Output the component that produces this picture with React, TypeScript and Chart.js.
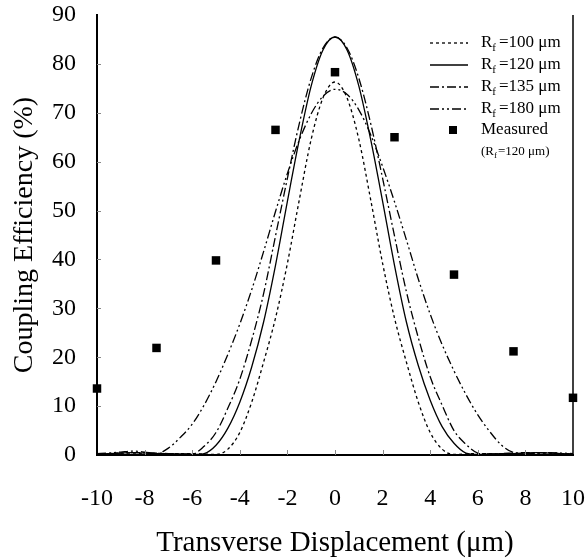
import React, { useEffect, useRef } from "react";
import { Chart, registerables } from "chart.js";

Chart.register(...registerables);

// ---- data ----
const xValues = [
  -10, -9.5, -9, -8.5, -8, -7.5, -7, -6.5, -6, -5.5, -5, -4.5, -4, -3.5, -3, -2.5, -2, -1.5, -1, -0.5,
  0, 0.5, 1, 1.5, 2, 2.5, 3, 3.5, 4, 4.5, 5, 5.5, 6, 6.5, 7, 7.5, 8, 8.5, 9, 9.5, 10,
];

const rf100 = [
  0.2, 0.3, 0.4, 0.4, 0.2, 0.1, 0.2, 0.3, 0.3, 0.2, 0.1, 1.2, 4.6, 10.8, 19.0, 28.0, 39.2, 52.2, 64.6, 73.1,
  76.3, 73.1, 64.6, 52.2, 39.2, 28.0, 19.0, 10.8, 4.6, 1.2, 0.1, 0.2, 0.3, 0.3, 0.2, 0.1, 0.2, 0.4, 0.4, 0.3, 0.2,
];

const rf120 = [
  0.2, 0.3, 0.4, 0.5, 0.4, 0.3, 0.3, 0.2, 0.1, 0.3, 2.0, 5.5, 10.8, 18.0, 27.2, 38.8, 51.9, 64.5, 75.5, 82.9,
  85.5, 82.9, 75.5, 64.5, 51.9, 38.8, 27.2, 18.3, 11.2, 5.8, 2.4, 0.4, 0.1, 0.2, 0.3, 0.3, 0.4, 0.5, 0.4, 0.3, 0.2,
];

const rf135 = [
  0.2, 0.3, 0.4, 0.5, 0.5, 0.4, 0.3, 0.2, 0.2, 1.8, 4.6, 9.6, 15.5, 23.5, 33.0, 44.8, 56.6, 67.8, 77.1, 83.3,
  85.5, 83.3, 77.1, 67.8, 56.6, 44.8, 33.4, 24.0, 16.0, 10.2, 5.0, 2.2, 0.4, 0.2, 0.3, 0.4, 0.5, 0.5, 0.4, 0.3, 0.2,
];

const rf180 = [
  0.3, 0.4, 0.6, 0.8, 0.6, 0.3, 1.4, 3.6, 6.3, 10.2, 15.0, 20.6, 26.8, 33.8, 41.6, 49.8, 57.6, 64.4, 69.8, 73.4,
  74.8, 73.8, 70.6, 65.5, 59.0, 51.8, 44.0, 36.0, 28.8, 22.6, 17.2, 12.4, 8.2, 4.8, 2.0, 0.5, 0.3, 0.4, 0.5, 0.4, 0.3,
];

const measuredX = [-10, -7.5, -5, -2.5, 0, 2.5, 5, 7.5, 10];
const measuredY = [13.6, 21.9, 39.8, 66.5, 78.3, 65.0, 36.9, 21.2, 11.7];

const radiusLabels = ["100", "120", "135", "180"];
const xTickStep = 2;
const yTickStep = 10;

const SERIF = "'Liberation Serif', 'Times New Roman', 'DejaVu Serif', serif";

const legendPlugin = {
  id: "customLegend",
  afterDraw(chart: any) {
    const ctx = chart.ctx;
    const lineX0 = 430;
    const lineX1 = 468;
    const textX = 481;
    const rowsY = [43, 65, 87, 109];
    ctx.save();
    ctx.fillStyle = "#000";
    ctx.strokeStyle = "#000";
    ctx.textBaseline = "middle";
    ctx.textAlign = "left";
    for (let i = 0; i < 4; i++) {
      const ds = chart.data.datasets[i];
      const y = rowsY[i];
      ctx.lineWidth = 1.3;
      ctx.setLineDash(ds.borderDash || []);
      ctx.beginPath();
      ctx.moveTo(lineX0, y);
      ctx.lineTo(lineX1, y);
      ctx.stroke();
      ctx.setLineDash([]);
      ctx.font = `17px ${SERIF}`;
      ctx.fillText("R", textX, y);
      const w = ctx.measureText("R").width;
      ctx.font = `11px ${SERIF}`;
      ctx.fillText("f", textX + w, y + 5);
      const fw = ctx.measureText("f").width;
      ctx.font = `17px ${SERIF}`;
      ctx.fillText("=" + radiusLabels[i] + " \u03bcm", textX + w + fw + 3, y);
    }
    // measured
    const my = 130;
    ctx.fillRect(449, my - 4, 8, 8);
    ctx.font = `17px ${SERIF}`;
    ctx.fillText("Measured", textX, my);
    const sy = 152;
    ctx.font = `13px ${SERIF}`;
    ctx.fillText("(R", textX, sy);
    const w2 = ctx.measureText("(R").width;
    ctx.font = `9px ${SERIF}`;
    ctx.fillText("f", textX + w2, sy + 4);
    const fw2 = ctx.measureText("f").width;
    ctx.font = `13px ${SERIF}`;
    ctx.fillText("=120 \u03bcm)", textX + w2 + fw2 + 1, sy);
    ctx.restore();
  },
};

const frameTicksPlugin = {
  id: "frameTicks",
  afterDatasetsDraw(chart: any) {
    const { ctx, chartArea, scales } = chart;
    ctx.save();
    // right border
    ctx.strokeStyle = "#000";
    ctx.lineWidth = 1.5;
    ctx.beginPath();
    ctx.moveTo(chartArea.right, chartArea.top);
    ctx.lineTo(chartArea.right, chartArea.bottom);
    ctx.stroke();
    // inner tick marks
    ctx.strokeStyle = "#888";
    ctx.lineWidth = 1;
    for (let v = 10; v < 90; v += yTickStep) {
      const py = Math.round(scales.y.getPixelForValue(v)) + 0.5;
      ctx.beginPath();
      ctx.moveTo(chartArea.left, py);
      ctx.lineTo(chartArea.left + 4, py);
      ctx.stroke();
    }
    for (let v = -8; v < 10; v += xTickStep) {
      const px = Math.round(scales.x.getPixelForValue(v)) + 0.5;
      ctx.beginPath();
      ctx.moveTo(px, chartArea.bottom);
      ctx.lineTo(px, chartArea.bottom - 5);
      ctx.stroke();
    }
    ctx.restore();
  },
};

function toPoints(ys: number[]) {
  return xValues.map((x, i) => ({ x, y: ys[i] }));
}

export default function App() {
  const canvasRef = useRef<HTMLCanvasElement | null>(null);

  useEffect(() => {
    document.body.style.margin = "0";
    const canvas = canvasRef.current;
    if (!canvas) return;
    const lineBase = {
      type: "line" as const,
      borderColor: "#000",
      borderWidth: 1.3,
      pointRadius: 0,
      fill: false,
      cubicInterpolationMode: "monotone" as const,
    };
    const chart = new Chart(canvas, {
      type: "line",
      data: {
        datasets: [
          { ...lineBase, label: "Rf=100 μm", data: toPoints(rf100), borderDash: [3, 3] },
          { ...lineBase, label: "Rf=120 μm", data: toPoints(rf120), borderDash: [] },
          { ...lineBase, label: "Rf=135 μm", data: toPoints(rf135), borderDash: [9, 3, 2, 3] },
          { ...lineBase, label: "Rf=180 μm", data: toPoints(rf180), borderDash: [9, 3, 2, 3, 2, 3] },
          {
            type: "scatter",
            label: "Measured",
            data: measuredX.map((x, i) => ({ x, y: measuredY[i] })),
            showLine: false,
            pointStyle: "rect",
            pointRadius: 6,
            backgroundColor: "#000",
            borderColor: "#000",
            borderWidth: 0,
            clip: false,
          } as any,
        ],
      },
      options: {
        responsive: false,
        animation: false,
        events: [],
        layout: { padding: { left: 0, right: 13, top: 15, bottom: 0 } },
        plugins: { legend: { display: false }, tooltip: { enabled: false } },
        scales: {
          x: {
            type: "linear",
            min: -10,
            max: 10,
            ticks: {
              stepSize: xTickStep,
              color: "#000",
              padding: 29,
              font: { family: SERIF, size: 24 },
            },
            grid: { display: false, drawTicks: false },
            border: { display: true, color: "#000", width: 2 },
            title: {
              display: true,
              text: "Transverse Displacement (\u03bcm)",
              color: "#000",
              font: { family: SERIF, size: 29, lineHeight: 1 },
              padding: { top: 0, bottom: 0 },
            },
            afterFit: (s: any) => {
              s.height = 103;
              s.paddingLeft = 0;
              s.paddingRight = 0;
            },
          },
          y: {
            type: "linear",
            min: 0,
            max: 90,
            ticks: {
              stepSize: yTickStep,
              color: "#000",
              padding: 21,
              font: { family: SERIF, size: 24 },
            },
            grid: { display: false, drawTicks: false },
            border: { display: true, color: "#000", width: 2 },
            title: {
              display: true,
              text: "Coupling Efficiency (%)",
              color: "#000",
              font: { family: SERIF, size: 28, lineHeight: 1.2 },
              padding: { top: 8, bottom: 0 },
            },
            afterFit: (s: any) => {
              s.width = 97;
              s.paddingTop = 0;
              s.paddingBottom = 0;
            },
          },
        },
      },
      plugins: [frameTicksPlugin, legendPlugin],
    });
    return () => chart.destroy();
  }, []);

  return (
    <div style={{ width: 586, height: 558 }}>
      <canvas ref={canvasRef} width={586} height={558} style={{ display: "block" }} />
    </div>
  );
}
